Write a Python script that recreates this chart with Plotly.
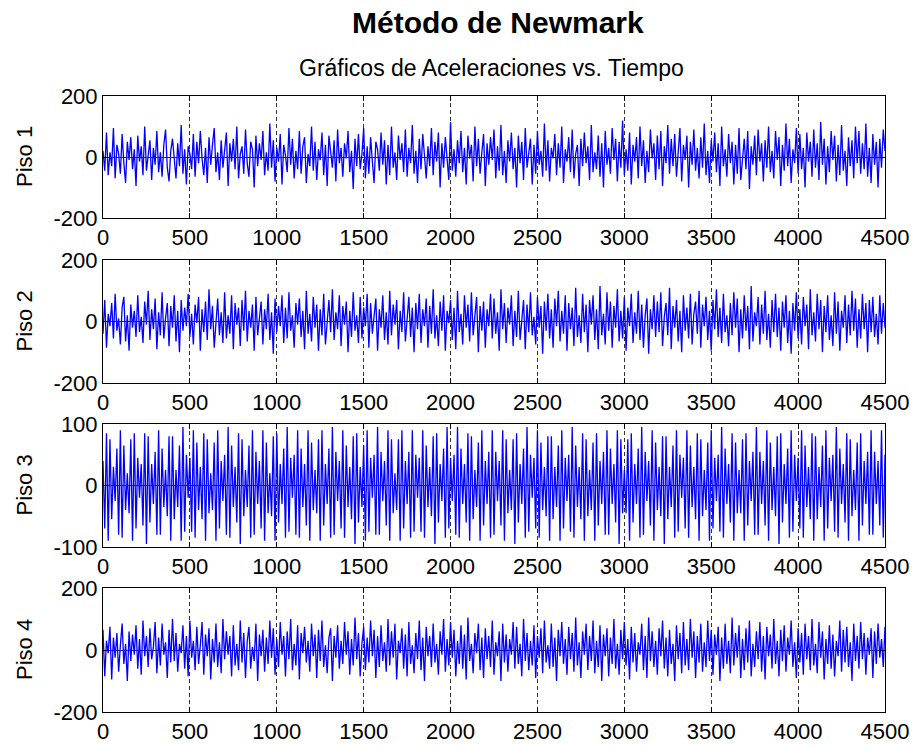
import numpy as np
import plotly.graph_objects as go

# ---------------- data (read/estimated from the picture) ----------------
piso1 = [20, -45, 80, -60, 15, -30, 95, -70, 40, 10, -55, 75, -20, -85, 50, -10, 65, -40, 25, -95,
         70, -15, 35, -60, 100, -45, 5, 55, -75, 30, -25, 85, -50, 15, -65, 40, 90, -35, -80, 20,
         60, -10, -70, 45, -30, 105, -55, 25, -90, 35, 10, -40, 75, -65, 50, -20, 85, -5, -60, 30,
         -85, 65, -25, 40, 95, -50, 15, -75, 55, -35, 20, 80, -95, 45, -15, 60, -40, 100, -70, 10,
         35, -55, 90, -20, -65, 50, 25, -100, 70, -30, 45, -10, 85, -60, 15, -45, 110, -35, 55, -80,
         30, -15, 75, -90, 40, 5, -50, 95, -25, 60, -70, 20, -40, 85, -55, 35, 65, -85, 10, -30,
         100, -45, 50, -75, 25, -10, 80, -60, 40, -95, 70, 15, -35, 55, -80, 90, -20, 30, -65, 45,
         -5, 85, -50, 20, -105, 60, -30, 75, -40, 10, 95, -70, 35, -55, 65, -15, -85, 50, 25, -45,
         80, -25, 55, -90, 40, -60, 100, -35, 15, -75, 70, -10, 45, -50, 90, -65, 30, -20, 105, -55,
         20, -85, 60, -40, 75, 5, -70, 35, -30, 95, -60, 50, -15, 80, -100, 45, -35, 65, -10, -75,
         115, -45, 25, -65, 55, -20, 85, -50, 30, -90, 70, -5, 40, -80, 100, -30, 60, -55, 15, 75,
         -95, 45, -25, 65, -10, 90, -70, 35, -45, 105, -60, 20, -85, 55, -15, 80, -40, 30, -100, 70,
         -20, 50, -75, 95, -35, 10, 60, -90, 40, -55, 85, -25, 20, -65, 110, -45, 55, -80, 30, -5,
         75, -60, 45, -35, 100, -85, 25, -15, 65, -50, 90, -70, 10, 40, -95, 60, -30, 80, -20, 35,
         -75, 105, -50, 15, -40, 70, -65, 45, -100, 85, -25, 30, -55, 95, -10, 60, -80, 50, -35, 120,
         -60, 25, -45, 80, -90, 40, -15, 65, -70, 100, -30, 55, -85, 20, -50, 90, -5, 45, -75, 70,
         -40, 85, -95, 35, -20, 105, -55, 60, -30, 75, -65, 15, 95, -80, 40, -10, 70, -100, 50, -25,
         90, -45, 30, -70, 65, -35, 110, -60, 20, -85, 55, -15, 80, -50, 45, -95, 100, -30, 25, -65,
         75, -20, 50, -90, 40, -55, 95, -75, 10, 60, -40, 85, -105, 35, -25, 70, -60, 90, -15, 45,
         -80, 55, -35, 100, -50, 20, -70, 85, -10, 65, -95, 40, -45, 110, -30, 60, -85, 25, -20, 95,
         -55, 75, -40, 30, -100, 80, -15, 50, -65, 90, -35, 45, -75, 115, -25, 60, -90, 35, -50, 85,
         -10, 70, -80, 40, -60, 105, -45, 20, -95, 65, -30, 55, -70, 100, -20, 85, -55, 45, -40, 110,
         -65, 30, -85, 75, -25, 50, -100, 60, -35, 90, 20]

piso2 = [-40, 70, -85, 25, -15, 60, -55, 90, -30, 10, -75, 45, 80, -65, 20, -95, 55, -20, 35, -50,
         85, -35, 15, -70, 65, -10, 100, -60, 40, -25, 75, -90, 30, -45, 95, -55, 10, 60, -80, 50,
         -20, 85, -65, 35, -100, 70, -30, 45, -15, 90, -50, 25, -75, 55, -5, 80, -95, 40, -35, 65,
         -60, 105, -25, 50, -85, 15, 75, -45, 30, -70, 95, -55, 20, -40, 85, -90, 60, -10, 45, -80,
         70, -30, 100, -65, 35, -20, 55, -95, 80, -45, 10, 65, -75, 40, -25, 90, -60, 30, -105, 75,
         -35, 50, -15, 85, -70, 45, -55, 95, -30, 20, -85, 60, -10, 75, -50, 35, -90, 100, -40, 25,
         -65, 80, -20, 55, -95, 40, -45, 90, -75, 15, 70, -35, 105, -60, 30, -25, 85, -80, 50, -10,
         65, -100, 35, -50, 95, -30, 20, -70, 80, -55, 45, -15, 90, -85, 60, -40, 25, 75, -95, 40,
         -20, 85, -60, 30, -75, 100, -45, 55, -10, 70, -90, 35, -35, 95, -65, 15, 80, -50, 45, -100,
         60, -25, 90, -70, 40, -15, 75, -85, 50, -40, 105, -55, 20, -80, 65, -30, 85, -95, 35, -5,
         70, -60, 45, -90, 100, -35, 25, -75, 85, -20, 55, -65, 95, -45, 10, 80, -100, 50, -30, 65,
         -85, 40, -15, 90, -55, 75, -40, 30, -95, 105, -25, 60, -70, 45, -10, 85, -80, 35, -50, 100,
         -60, 20, 70, -90, 55, -35, 95, -45, 15, -75, 80, -20, 50, -105, 65, -30, 90, -55, 40, -85,
         75, -15, 100, -65, 35, -40, 85, -95, 60, -25, 45, -80, 110, -50, 20, -70, 90, -35, 55, -100,
         70, -10, 85, -60, 40, -90, 115, -45, 25, -75, 95, -30, 65, -85, 50, -20, 105, -65, 35, -55,
         80, -95, 45, -15, 90, -70, 30, -40, 100, -60, 55, -85, 20, 75, -105, 40, -25, 85, -50, 65,
         -35, 95, -80, 15, 60, -45, 110, -90, 50, -20, 70, -65, 35, -100, 85, -30, 45, -55, 90, -75,
         25, 65, -40, 100, -85, 55, -15, 80, -60, 35, -95, 70, -25, 105, -50, 45, -70, 90, -35, 20,
         -80, 60, -45, 95, -20, 75, -100, 40, -55, 85, -30, 50, -90, 115, -65, 30, -15, 80, -75, 55,
         -40, 100, -60, 25, -85, 70, -35, 90, -50, 45, -95, 65, -20, 85, -70, 35, -105, 60, -30, 95,
         -55, 40, -75, 80, -15, 55, -90, 105, -45, 30, -65, 90, -25, 70, -100, 50, -35, 85, -60, 20,
         -80, 95, -40, 65, -95, 35, -20, 85, -70, 55, -45, 100, -30, 75, -85, 40, -55, 90, -25, 60,
         -100, 70, -35, 80, -50, 25, -75, 85, -40, 60, -20]

piso3 = [40, -70, 85, -90, 75, -55, 30, -25, 60, -80, 90, -85, 65, -40, 20, -45, 75, -90, 85, -70,
         45, -20, 35, -65, 85, -95, 80, -60, 35, -30, 55, -80, 90, -80, 60, -35, 25, -50, 80, -90,
         80, -55, 25, -35, 65, -90, 95, -75, 50, -20, 45, -75, 90, -85, 70, -40, 30, -55, 85, -90,
         75, -45, 20, -40, 70, -90, 90, -70, 40, -25, 50, -80, 95, -85, 65, -35, 30, -60, 85, -95,
         75, -50, 25, -35, 65, -85, 90, -80, 55, -30, 40, -70, 90, -90, 70, -45, 20, -50, 80, -90,
         85, -60, 35, -30, 60, -85, 95, -75, 45, -20, 50, -80, 90, -85, 60, -35, 35, -65, 90, -90,
         70, -40, 25, -45, 75, -90, 90, -65, 35, -30, 60, -85, 95, -80, 55, -25, 40, -70, 90, -85,
         65, -35, 30, -55, 80, -95, 85, -60, 30, -35, 65, -90, 90, -75, 45, -20, 50, -80, 95, -80,
         55, -25, 40, -65, 90, -90, 75, -45, 20, -40, 75, -90, 90, -70, 40, -30, 55, -85, 90, -75,
         50, -20, 45, -75, 90, -85, 65, -35, 30, -50, 80, -95, 85, -60, 35, -25, 60, -85, 95, -70,
         45, -25, 50, -80, 95, -85, 60, -30, 35, -60, 85, -90, 80, -55, 25, -35, 70, -90, 90, -65,
         40, -30, 55, -85, 90, -80, 55, -25, 40, -65, 90, -90, 75, -45, 25, -40, 75, -95, 85, -60,
         35, -30, 60, -85, 95, -75, 50, -20, 45, -70, 90, -85, 70, -40, 30, -50, 80, -90, 80, -55,
         30, -35, 65, -90, 90, -70, 45, -25, 50, -75, 95, -85, 65, -35, 30, -55, 85, -90, 75, -50,
         25, -40, 70, -90, 85, -65, 40, -30, 55, -80, 90, -80, 60, -30, 35, -60, 90, -95, 75, -45,
         25, -45, 75, -90, 85, -60, 35, -30, 60, -85, 95, -80, 55, -25, 40, -65, 90, -90, 70, -40,
         30, -50, 80, -95, 80, -55, 30, -35, 65, -85, 90, -75, 50, -20, 45, -70, 90, -85, 65, -35,
         30, -55, 85, -90, 75, -50, 25, -40, 70, -90, 90, -70, 45, -25, 50, -75, 95, -85, 60, -30,
         35, -60, 85, -90, 70, -45, 25, -45, 75, -90, 85, -65, 40, -25, 55, -80, 95, -80, 55, -30,
         40, -65, 90, -90, 70, -40, 30, -50, 80, -95, 85, -60, 35, -30, 60, -85, 90, -75, 50, -25,
         45, -70, 90, -85, 65, -35, 30, -55, 85, -90, 80, -55, 30, -35, 65, -90, 90, -70, 45, -25,
         50, -75, 95, -85, 60, -30, 35, -60, 85, -90, 75, -50, 25, -40, 70, -90, 85, -65, 40, -30,
         55, -80, 90, -80, 55, -30, 40, -65, 90, -85, 50]

piso4 = [65, -85, 30, -10, 75, -95, 40, -25, 55, -70, 15, 85, -45, 20, -100, 60, -35, 50, -15, 80,
         -60, 35, -80, 95, -20, 45, -55, 70, -30, 10, 90, -75, 40, -50, 85, -15, 25, -90, 65, -40,
         100, -35, 55, -70, 20, -10, 80, -60, 45, -85, 95, -25, 30, -65, 75, -45, 15, 90, -80, 50,
         -20, 70, -95, 35, -40, 85, -55, 25, -75, 100, -30, 60, -15, 45, -85, 80, -50, 20, -65, 95,
         -40, 55, -90, 30, 75, -60, 10, -35, 85, -100, 50, -20, 65, -70, 40, -45, 95, -25, 70, -80,
         35, -55, 90, -15, 45, -85, 60, -30, 100, -65, 20, -50, 80, -95, 55, -10, 75, -40, 30, -70,
         85, -20, 50, -90, 65, -35, 95, -55, 15, -75, 40, 70, -100, 45, -25, 80, -60, 30, -45, 90,
         -15, 60, -80, 35, -50, 105, -30, 55, -85, 20, 75, -65, 40, -40, 95, -20, 65, -90, 45, -55,
         80, -35, 25, -70, 100, -50, 60, -25, 85, -95, 30, -10, 70, -60, 50, -85, 90, -45, 15, -75,
         55, -30, 95, -65, 40, -100, 75, -20, 45, -55, 85, -40, 20, -80, 60, -15, 100, -70, 35, -50,
         90, -25, 65, -85, 30, -45, 80, -60, 50, -95, 105, -35, 20, -75, 55, -10, 85, -65, 40, -90,
         70, -30, 45, -55, 95, -80, 25, -20, 60, -100, 85, -40, 50, -70, 35, -15, 90, -60, 75, -45,
         20, -85, 100, -35, 55, -65, 30, -50, 80, -90, 45, -25, 70, -75, 95, -40, 15, -60, 85, -55,
         40, -100, 65, -20, 90, -45, 35, -80, 75, -30, 55, -70, 105, -50, 25, -90, 60, -15, 85, -65,
         45, -35, 95, -75, 30, -55, 80, -100, 50, -20, 70, -85, 40, -45, 100, -60, 20, -80, 65, -30,
         90, -50, 35, -95, 75, -40, 55, -70, 25, -15, 85, -65, 45, -90, 105, -35, 60, -55, 30, -80,
         70, -20, 95, -60, 40, -85, 65, -45, 20, -100, 80, -30, 55, -75, 90, -50, 35, -65, 100, -25,
         60, -90, 45, -40, 85, -70, 25, -55, 95, -35, 65, -80, 50, -15, 75, -100, 40, -60, 85, -45,
         30, -75, 105, -50, 55, -25, 80, -90, 35, -65, 70, -40, 95, -85, 20, -55, 60, -30, 90, -70,
         45, -95, 75, -20, 50, -60, 100, -45, 30, -85, 65, -35, 80, -70, 40, -15, 95, -55, 25, -90,
         70, -40, 55, -80, 85, -30, 45, -65, 100, -50, 20, -75, 90, -25, 60, -95, 35, -45, 80, -60,
         50, -85, 30, -20, 95, -70, 65, -40, 75, -55, 25, -100, 85, -35, 45, -60, 90, -30, 55, -80,
         40, -15, 70, -90, 60, -45, 85, -25, 35, -55, 75]

series = [piso1, piso2, piso3, piso4]
labels = ["Piso 1", "Piso 2", "Piso 3", "Piso 4"]
y_limits = [[-200, 200], [-200, 200], [-100, 100], [-200, 200]]
y_ticks = [[-200, 0, 200], [-200, 0, 200], [-100, 0, 100], [-200, 0, 200]]
x_ticks = [0, 500, 1000, 1500, 2000, 2500, 3000, 3500, 4000, 4500]
t_end = 4500

title = "Método de Newmark"
subtitle = "Gráficos de Aceleraciones vs. Tiempo"

# ---------------- layout ----------------
W, H = 914, 745
ML, MR, MT, MB = 103, 29, 96, 33
PH = H - MT - MB
PW = W - ML - MR
panels_px = [(96, 218), (260, 383), (424, 547), (588, 712)]


def fy(ypx):
    return (H - MB - ypx) / PH


def fx(xpx):
    return (xpx - ML) / PW


fig = go.Figure()
font_main = "Liberation Sans, Arial, Helvetica, sans-serif"

for i, (vals, lab) in enumerate(zip(series, labels)):
    n = i + 1
    t = np.linspace(0, t_end, len(vals))
    fig.add_trace(go.Scatter(x=t, y=vals, mode="lines",
                             line=dict(color="#0000FF", width=1.3),
                             xaxis=f"x{n}", yaxis=f"y{n}", showlegend=False,
                             hoverinfo="skip"))
    top, bot = panels_px[i]
    xa = dict(domain=[0, 1], range=[0, t_end], tickvals=x_ticks,
              ticktext=[str(v) for v in x_ticks],
              showgrid=True, gridcolor="#333333", griddash="4px,3px", gridwidth=1,
              showline=True, linecolor="black", linewidth=1, mirror="ticks",
              ticks="inside", ticklen=5, tickcolor="black",
              tickfont=dict(family=font_main, size=22, color="black"),
              zeroline=False, anchor=f"y{n}", fixedrange=True, automargin=False)
    ya = dict(domain=[fy(bot), fy(top)], range=y_limits[i], tickvals=y_ticks[i],
              ticktext=[str(v) for v in y_ticks[i]],
              showgrid=False, showline=True, linecolor="black", linewidth=1,
              mirror="ticks", ticks="inside", ticklen=5, tickcolor="black",
              tickfont=dict(family=font_main, size=22, color="black"),
              zeroline=True, zerolinecolor="#2a2a6a", zerolinewidth=1,
              anchor=f"x{n}", fixedrange=True, automargin=False)
    fig.layout[f"xaxis{n}"] = xa
    fig.layout[f"yaxis{n}"] = ya
    fig.add_annotation(text=lab, xref="paper", yref="paper",
                       x=fx(24), y=fy((top + bot) / 2),
                       textangle=-90, showarrow=False,
                       xanchor="center", yanchor="middle",
                       font=dict(family=font_main, size=22, color="black"))

fig.add_annotation(text="<b>" + title + "</b>", xref="paper", yref="paper",
                   x=fx(498), y=fy(22), showarrow=False, xanchor="center", yanchor="middle",
                   font=dict(family=font_main, size=30, color="black"))
fig.add_annotation(text=subtitle, xref="paper", yref="paper",
                   x=fx(491), y=fy(68), showarrow=False, xanchor="center", yanchor="middle",
                   font=dict(family=font_main, size=23, color="black"))

fig.update_layout(width=W, height=H, margin=dict(l=ML, r=MR, t=MT, b=MB, autoexpand=False),
                  paper_bgcolor="white", plot_bgcolor="white")

fig.write_html("out.html", config={"displayModeBar": False},
               post_script="document.body.style.margin='0';document.body.style.padding='0';")
